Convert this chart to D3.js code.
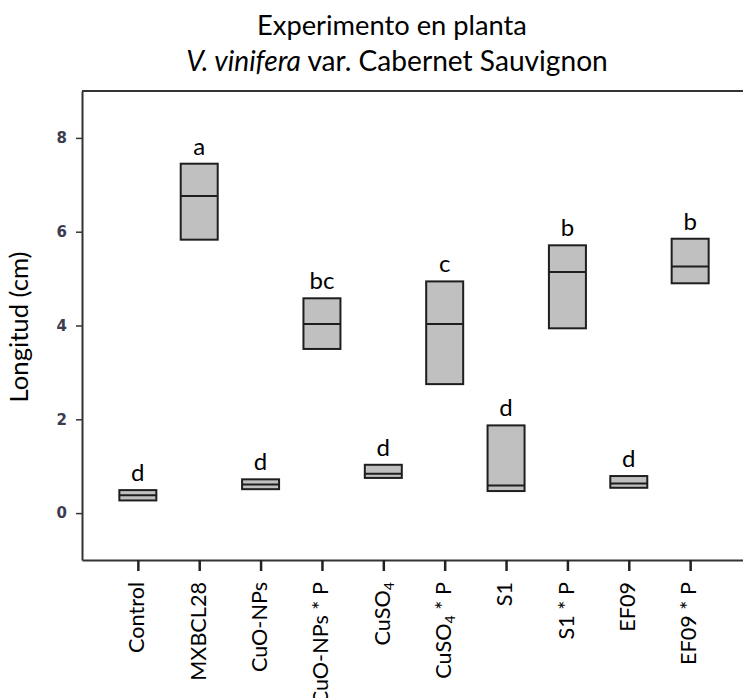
<!DOCTYPE html>
<html lang="es">
<head>
  <meta charset="UTF-8" />
  <title>Experimento en planta</title>
  <script src="https://d3js.org/d3.v7.min.js"></script>
  <style>
    body { margin: 0; background: #fff; }
    svg { display: block; }
    svg text { font-family: Lato, "Open Sans", sans-serif; fill: #000; }
    .box { fill: #c0c0c0; stroke: #1e1e1e; stroke-width: 2; }
    .median { stroke: #1e1e1e; stroke-width: 2; }
    .frame { stroke: #333; stroke-width: 2; fill: none; }
    #y-axis text { font-family: "DejaVu Sans", sans-serif; font-weight: bold; fill: #3c3c50; font-size: 15px; }
  </style>
</head>
<body>
  <svg width="743" height="698"></svg>
  <script>
    // treatments and box stats
    const categories = ["Control", "MXBCL28", "CuO-NPs", "CuO-NPs * P", "CuSO4", "CuSO4 * P", "S1", "S1 * P", "EF09", "EF09 * P"];
    const q1 = [0.27, 5.83, 0.51, 3.50, 0.75, 2.75, 0.47, 3.94, 0.54, 4.90];
    const median = [0.38, 6.76, 0.61, 4.03, 0.84, 4.03, 0.59, 5.14, 0.63, 5.26];
    const q3 = [0.49, 7.45, 0.72, 4.58, 1.03, 4.94, 1.87, 5.71, 0.79, 5.85];
    const letters = ["d", "a", "d", "bc", "d", "c", "d", "b", "d", "b"];
    const yTicks = [0, 2, 4, 6, 8];

    const svg = d3.select("svg");
    const plotLeft = 82, plotRight = 746, plotTop = 91, plotBottom = 560;

    const x = d3.scalePoint().domain(categories).range([plotLeft, plotRight]).padding(0.91);
    const y = d3.scaleLinear().domain([-1, 9]).range([plotBottom, plotTop]);
    const boxW = 37;

    // scale a text's font so it spans roughly the width seen in the picture
    function fitSize(sel, base, target) {
      sel.style("font-size", base + "px");
      const w = sel.node().getComputedTextLength();
      const size = base * target / w;
      sel.style("font-size", size + "px");
      return size;
    }

    // frame: top line
    svg.append("line").attr("class", "frame")
      .attr("x1", plotLeft).attr("x2", 743).attr("y1", plotTop).attr("y2", plotTop);

    const yAxis = svg.append("g")
      .attr("id", "y-axis")
      .attr("transform", `translate(${plotLeft},0)`)
      .call(d3.axisLeft(y).tickValues(yTicks).tickSize(6).tickSizeOuter(0).tickPadding(9));
    yAxis.select(".domain").attr("stroke", "#333").attr("stroke-width", 2);
    yAxis.selectAll(".tick line").attr("stroke", "#333").attr("stroke-width", 1.5);

    const xAxis = svg.append("g")
      .attr("id", "x-axis")
      .attr("transform", `translate(0,${plotBottom})`)
      .call(d3.axisBottom(x).tickSize(11).tickSizeOuter(0).tickFormat(""));
    xAxis.select(".domain").attr("stroke", "#333").attr("stroke-width", 2);
    xAxis.selectAll(".tick line").attr("stroke", "#222").attr("stroke-width", 2.5);

    // rotated category labels, with subscript for CuSO4
    const probe = svg.append("text").text("Control");
    const labelSize = fitSize(probe, 22, 71);
    probe.remove();

    xAxis.selectAll(".tick").each(function(d) {
      const t = d3.select(this).append("text")
        .attr("transform", "translate(-2,22) rotate(-90)")
        .attr("text-anchor", "end")
        .attr("dy", "0.36em")
        .style("font-size", labelSize + "px");
      const m = d.match(/^CuSO4(.*)$/);
      if (m) {
        t.append("tspan").text("CuSO");
        t.append("tspan").text("4").style("font-size", (labelSize * 0.65) + "px").attr("dy", "0.3em");
        if (m[1]) t.append("tspan").text(m[1]).attr("dy", "-0.2em");
      } else {
        t.text(d);
      }
    });

    const rows = categories.map((c, i) => ({ c, lo: q1[i], med: median[i], hi: q3[i], l: letters[i] }));

    const g = svg.append("g");
    g.selectAll("rect.box")
      .data(rows)
      .enter()
      .append("rect")
      .attr("class", "box")
      .attr("x", d => x(d.c) - boxW / 2)
      .attr("y", d => y(d.hi))
      .attr("width", boxW)
      .attr("height", d => y(d.lo) - y(d.hi));

    g.selectAll("line.median")
      .data(rows)
      .enter()
      .append("line")
      .attr("class", "median")
      .attr("x1", d => x(d.c) - boxW / 2)
      .attr("x2", d => x(d.c) + boxW / 2)
      .attr("y1", d => y(d.med))
      .attr("y2", d => y(d.med));

    g.selectAll("text.letter")
      .data(rows)
      .enter()
      .append("text")
      .attr("class", "letter")
      .attr("x", d => x(d.c))
      .attr("y", d => y(d.hi) - 9)
      .attr("text-anchor", "middle")
      .style("font-size", "24px")
      .text(d => d.l);

    // y title
    const yTitle = svg.append("text")
      .attr("transform", "translate(28,327) rotate(-90)")
      .attr("text-anchor", "middle")
      .text("Longitud (cm)");
    fitSize(yTitle, 24, 151);

    // title
    const t1 = svg.append("text")
      .attr("x", 392).attr("y", 35)
      .attr("text-anchor", "middle")
      .text("Experimento en planta");
    fitSize(t1, 27, 270);
    const t2 = svg.append("text")
      .attr("x", 397).attr("y", 71)
      .attr("text-anchor", "middle");
    t2.append("tspan").style("font-style", "italic").text("V. vinifera");
    t2.append("tspan").text(" var. Cabernet Sauvignon");
    fitSize(t2, 27, 422);
  </script>
</body>
</html>
